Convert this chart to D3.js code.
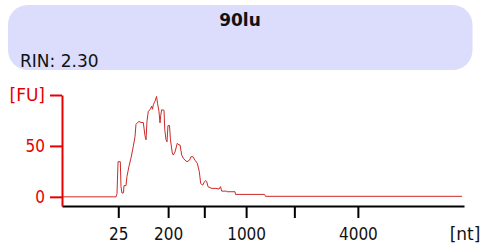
<!DOCTYPE html>
<html>
<head>
<meta charset="utf-8">
<script src="https://cdn.jsdelivr.net/npm/d3@7"></script>
<style>
  body { margin: 0; background: #fff; }
  svg { display: block; font-family: "DejaVu Sans", sans-serif; }
  .cond { font-family: "DejaVu Sans Condensed", "DejaVu Sans", sans-serif; font-stretch: condensed; }
  .axisx path, .axisx line { stroke: #000; stroke-width: 2; }
  .axisx text { fill: #111; font-size: 17px; }
  .axisy path, .axisy line { stroke: #e60000; stroke-width: 2; }
  .axisy text { fill: #e60000; font-size: 17px; }
</style>
</head>
<body>
<svg width="480" height="245"></svg>
<script>
// sample name and RIN shown in the header box
var sampleName = "90lu";
var rinText = "RIN: 2.30";

// migration time (s) of the ladder ticks, and their labels in nt
var ladderTimes = [26.0, 32.2, 36.7, 41.9, 47.9, 55.8];
var ladderLabels = ["25", "200", "", "1000", "", "4000"];

// y ticks (FU), top one is labelled with the unit
var fuTicks = [0, 50, 100];

// electropherogram trace
var traceTime = [19.0, 25.72, 25.84, 25.97, 26.25, 26.34, 26.46, 26.65, 26.71, 26.96,
  27.08, 27.33, 27.58, 27.83, 28.08, 28.20, 28.39, 28.58, 28.83, 29.11,
  29.32, 29.45, 29.57, 29.73, 29.95, 30.16, 30.26, 30.36, 30.57, 30.76,
  30.88, 31.06, 31.19, 31.28, 31.40, 31.69, 31.78, 31.94, 32.06, 32.18,
  32.37, 32.49, 32.72, 32.84, 33.05, 33.34, 33.55, 33.68, 33.89, 34.09,
  34.30, 34.55, 34.86, 35.04, 35.29, 35.54, 35.83, 36.08, 36.25, 36.50,
  36.66, 36.85, 37.00, 37.16, 37.41, 37.66, 38.15, 38.53, 38.71, 38.86,
  39.48, 39.52, 40.52, 40.58, 44.19, 44.31, 68.75];
var traceFU = [0, 0, 3, 34.5, 34.5, 10, 3.6, 4, 11, 11,
  20, 30, 38, 48, 59, 71, 73, 74, 73, 73,
  60, 56, 74, 84, 85.5, 89, 86, 90.5, 94, 98.6,
  92, 84, 72.6, 80, 85.5, 85, 66, 56, 54, 70,
  70, 56, 43, 41, 44, 52.6, 51, 51, 41, 38,
  36, 34.5, 36, 39.4, 39.4, 36, 33, 24.7, 13, 11.5,
  14, 16, 15, 10, 9, 8.3, 8.3, 7.6, 10, 5.6,
  5.6, 5, 5, 2.4, 2.4, 0.5, 0.5];

var svg = d3.select("svg"),
  margin = {
    top: 95,
    right: 16,
    bottom: 39,
    left: 62
  };

var width = +svg.attr("width") - margin.left - margin.right,
  height = +svg.attr("height") - margin.top - margin.bottom;

// header box
svg.append("rect")
  .attr("x", 8)
  .attr("y", 5)
  .attr("width", 464.5)
  .attr("height", 65)
  .attr("rx", 20)
  .attr("fill", "#dcdcfc");

svg.append("text")
  .attr("x", 240)
  .attr("y", 26)
  .attr("text-anchor", "middle")
  .attr("font-size", "17px")
  .attr("font-weight", "bold")
  .attr("fill", "#111")
  .text(sampleName);

svg.append("text")
  .attr("x", 20)
  .attr("y", 66.5)
  .attr("font-size", "17px")
  .attr("fill", "#111")
  .text(rinText);

var g = svg.append("g").attr("transform", "translate(" + margin.left + "," +
  margin.top + ")");

// scales: x is migration time, y is fluorescence
var x = d3.scaleLinear().domain([19, 69]).range([0, width]);
var y = d3.scaleLinear().domain([-9, 100]).range([height, 0]);

var trace = traceTime.map(function(t, i) {
  return { t: t, fu: traceFU[i] };
});

var line = d3.line()
  .x(function(d) { return x(d.t); })
  .y(function(d) { return y(d.fu); });

g.append("path")
  .datum(trace)
  .attr("fill", "none")
  .attr("stroke", "#cc2a2a")
  .attr("stroke-width", 1)
  .attr("d", line);

var xAxis = d3.axisBottom(x)
  .tickValues(ladderTimes)
  .tickFormat(function(d, i) { return ladderLabels[i]; })
  .tickSize(12)
  .tickSizeOuter(0)
  .tickPadding(10);

g.append("g")
  .attr("class", "axis axisx")
  .attr("transform", "translate(0," + height + ")")
  .call(xAxis);

var yAxis = d3.axisLeft(y)
  .tickValues(fuTicks)
  .tickFormat(function(d) { return d === 100 ? "[FU]" : d; })
  .tickSize(12)
  .tickSizeOuter(0)
  .tickPadding(5);

g.append("g")
  .attr("class", "axis axisy")
  .call(yAxis);

d3.selectAll(".axis").attr("font-family", null).attr("font-size", null);
// numbers are narrow, the unit label is not
d3.selectAll(".axis text").attr("class", "cond");
d3.selectAll(".axisy text").filter(function(d) { return d === 100; }).attr("class", null);

// unit of the x axis
g.append("text")
  .attr("x", width + 1)
  .attr("y", height + 34)
  .attr("text-anchor", "middle")
  .attr("font-size", "17px")
  .attr("fill", "#111")
  .text("[nt]");
</script>
</body>
</html>
